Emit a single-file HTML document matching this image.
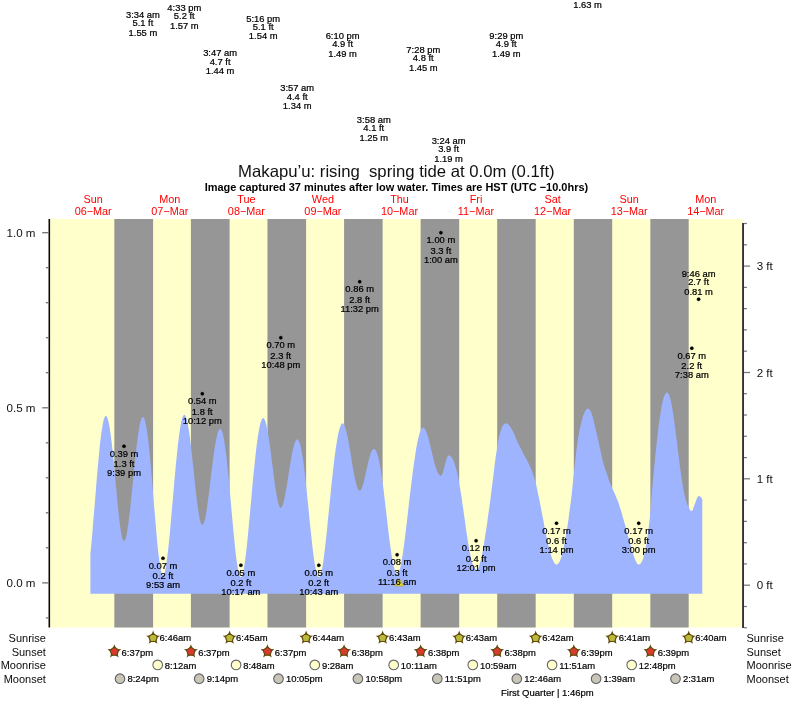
<!DOCTYPE html>
<html lang="en"><head><meta charset="utf-8"><title>Makapu’u tide times</title>
<style>html,body{margin:0;padding:0;background:#fff}body{width:793px;height:701px;overflow:hidden}svg{display:block;filter:blur(0.6px)}</style></head>
<body>
<svg width="793" height="701" viewBox="0 0 793 701" font-family="'Liberation Sans', Arial, Helvetica, sans-serif">
<rect x="0" y="0" width="793" height="701" fill="#ffffff"/>
<rect x="50.0" y="219.0" width="692.7" height="408.5" fill="#ffffcc"/>
<rect x="114.34" y="219.0" width="38.76" height="408.5" fill="#969696"/>
<rect x="190.90" y="219.0" width="38.71" height="408.5" fill="#969696"/>
<rect x="267.46" y="219.0" width="38.65" height="408.5" fill="#969696"/>
<rect x="344.07" y="219.0" width="38.55" height="408.5" fill="#969696"/>
<rect x="420.63" y="219.0" width="38.55" height="408.5" fill="#969696"/>
<rect x="497.19" y="219.0" width="38.49" height="408.5" fill="#969696"/>
<rect x="573.80" y="219.0" width="38.39" height="408.5" fill="#969696"/>
<rect x="650.36" y="219.0" width="38.33" height="408.5" fill="#969696"/>
<path d="M90.4 593.8 L90.4 553.5 L91.3 544.6 L92.2 534.9 L93.0 524.6 L93.9 514.1 L94.8 503.3 L95.7 492.5 L96.5 481.9 L97.4 471.6 L98.3 461.8 L99.2 452.6 L100.0 444.1 L100.9 436.6 L101.8 430.1 L102.7 424.7 L103.5 420.5 L104.4 417.7 L105.3 416.1 L106.2 415.9 L107.0 417.1 L107.9 419.4 L108.8 423.0 L109.7 427.8 L110.5 433.6 L111.4 440.4 L112.3 448.0 L113.2 456.4 L114.0 465.3 L114.9 474.6 L115.8 484.1 L116.7 493.6 L117.5 502.8 L118.4 511.5 L119.3 519.4 L120.2 526.3 L121.0 532.1 L121.9 536.5 L122.8 539.5 L123.7 540.9 L124.5 540.7 L125.4 539.1 L126.3 536.0 L127.2 531.6 L128.0 526.0 L128.9 519.4 L129.8 512.0 L130.7 504.0 L131.5 495.5 L132.4 486.8 L133.3 477.9 L134.2 469.2 L135.0 460.6 L135.9 452.5 L136.8 444.9 L137.7 437.9 L138.5 431.8 L139.4 426.6 L140.3 422.4 L141.2 419.4 L142.0 417.5 L142.9 416.9 L143.8 417.6 L144.7 419.6 L145.5 423.0 L146.4 427.5 L147.3 433.3 L148.2 440.1 L149.1 447.9 L149.9 456.6 L150.8 466.1 L151.7 476.2 L152.6 486.6 L153.4 497.4 L154.3 508.2 L155.2 518.9 L156.1 529.2 L156.9 539.0 L157.8 547.9 L158.7 555.9 L159.6 562.7 L160.4 568.1 L161.3 572.1 L162.2 574.4 L163.1 575.2 L163.9 574.3 L164.8 571.9 L165.7 567.9 L166.6 562.5 L167.4 555.8 L168.3 548.2 L169.2 539.6 L170.1 530.4 L170.9 520.8 L171.8 510.8 L172.7 500.7 L173.6 490.5 L174.4 480.6 L175.3 470.9 L176.2 461.6 L177.1 452.9 L177.9 444.8 L178.8 437.5 L179.7 431.0 L180.6 425.6 L181.4 421.2 L182.3 417.9 L183.2 415.8 L184.1 414.8 L184.9 415.1 L185.8 416.6 L186.7 419.2 L187.6 422.9 L188.4 427.7 L189.3 433.3 L190.2 439.8 L191.1 447.0 L191.9 454.7 L192.8 462.8 L193.7 471.1 L194.6 479.4 L195.4 487.6 L196.3 495.5 L197.2 502.8 L198.1 509.3 L198.9 514.9 L199.8 519.3 L200.7 522.5 L201.6 524.4 L202.5 524.9 L203.3 524.1 L204.2 521.9 L205.1 518.6 L206.0 514.2 L206.8 508.9 L207.7 502.8 L208.6 496.1 L209.5 489.1 L210.3 481.8 L211.2 474.5 L212.1 467.4 L213.0 460.5 L213.8 454.0 L214.7 448.0 L215.6 442.6 L216.5 438.0 L217.3 434.2 L218.2 431.4 L219.1 429.5 L220.0 428.7 L220.8 429.0 L221.7 430.5 L222.6 433.1 L223.5 436.8 L224.3 441.6 L225.2 447.5 L226.1 454.2 L227.0 461.8 L227.8 470.2 L228.7 479.1 L229.6 488.5 L230.5 498.2 L231.3 508.0 L232.2 517.8 L233.1 527.4 L234.0 536.6 L234.8 545.3 L235.7 553.3 L236.6 560.4 L237.5 566.4 L238.3 571.2 L239.2 574.7 L240.1 576.8 L241.0 577.3 L241.8 576.4 L242.7 574.0 L243.6 570.2 L244.5 565.1 L245.3 558.8 L246.2 551.5 L247.1 543.4 L248.0 534.6 L248.8 525.4 L249.7 515.9 L250.6 506.2 L251.5 496.5 L252.3 487.0 L253.2 477.7 L254.1 468.8 L255.0 460.3 L255.8 452.4 L256.7 445.1 L257.6 438.5 L258.5 432.7 L259.4 427.8 L260.2 423.8 L261.1 420.9 L262.0 418.9 L262.9 418.1 L263.7 418.2 L264.6 419.5 L265.5 421.8 L266.4 425.1 L267.2 429.2 L268.1 434.1 L269.0 439.6 L269.9 445.7 L270.7 452.2 L271.6 459.0 L272.5 465.9 L273.4 472.8 L274.2 479.4 L275.1 485.7 L276.0 491.5 L276.9 496.6 L277.7 500.9 L278.6 504.2 L279.5 506.5 L280.4 507.7 L281.2 507.7 L282.1 506.6 L283.0 504.4 L283.9 501.3 L284.7 497.4 L285.6 492.8 L286.5 487.7 L287.4 482.2 L288.2 476.6 L289.1 470.9 L290.0 465.4 L290.9 460.2 L291.7 455.3 L292.6 451.0 L293.5 447.2 L294.4 444.1 L295.2 441.7 L296.1 440.1 L297.0 439.4 L297.9 439.6 L298.7 440.7 L299.6 442.8 L300.5 445.8 L301.4 449.7 L302.2 454.6 L303.1 460.3 L304.0 466.8 L304.9 474.0 L305.7 481.8 L306.6 490.1 L307.5 498.7 L308.4 507.5 L309.2 516.3 L310.1 525.0 L311.0 533.5 L311.9 541.6 L312.7 549.2 L313.6 556.2 L314.5 562.4 L315.4 567.6 L316.3 571.8 L317.1 574.9 L318.0 576.8 L318.9 577.3 L319.8 576.6 L320.6 574.6 L321.5 571.4 L322.4 567.0 L323.3 561.5 L324.1 555.1 L325.0 547.9 L325.9 540.1 L326.8 531.8 L327.6 523.2 L328.5 514.4 L329.4 505.5 L330.3 496.8 L331.1 488.2 L332.0 479.9 L332.9 471.8 L333.8 464.2 L334.6 457.1 L335.5 450.4 L336.4 444.4 L337.3 439.0 L338.1 434.4 L339.0 430.5 L339.9 427.4 L340.8 425.2 L341.6 423.8 L342.5 423.3 L343.4 423.8 L344.3 425.1 L345.1 427.3 L346.0 430.2 L346.9 433.8 L347.8 438.0 L348.6 442.6 L349.5 447.6 L350.4 452.8 L351.3 458.0 L352.1 463.3 L353.0 468.4 L353.9 473.3 L354.8 477.8 L355.6 481.7 L356.5 485.1 L357.4 487.7 L358.3 489.6 L359.1 490.5 L360.0 490.7 L360.9 489.9 L361.8 488.3 L362.6 485.9 L363.5 482.9 L364.4 479.4 L365.3 475.6 L366.1 471.6 L367.0 467.6 L367.9 463.8 L368.8 460.1 L369.7 456.9 L370.5 454.1 L371.4 451.8 L372.3 450.2 L373.2 449.3 L374.0 449.0 L374.9 449.5 L375.8 450.5 L376.7 452.3 L377.5 454.7 L378.4 457.9 L379.3 461.7 L380.2 466.3 L381.0 471.6 L381.9 477.4 L382.8 483.8 L383.7 490.7 L384.5 497.9 L385.4 505.4 L386.3 513.0 L387.2 520.6 L388.0 528.1 L388.9 535.4 L389.8 542.3 L390.7 548.8 L391.5 554.7 L392.4 560.0 L393.3 564.6 L394.2 568.3 L395.0 571.2 L395.9 573.1 L396.8 574.1 L397.7 574.0 L398.5 572.8 L399.4 570.7 L400.3 567.6 L401.2 563.6 L402.0 558.7 L402.9 553.0 L403.8 546.8 L404.7 540.0 L405.5 532.9 L406.4 525.5 L407.3 517.9 L408.2 510.3 L409.0 502.8 L409.9 495.3 L410.8 487.9 L411.7 480.8 L412.5 473.9 L413.4 467.3 L414.3 461.0 L415.2 455.2 L416.0 449.7 L416.9 444.8 L417.8 440.4 L418.7 436.6 L419.5 433.5 L420.4 431.0 L421.3 429.2 L422.2 428.1 L423.0 427.6 L423.9 427.8 L424.8 428.7 L425.7 430.3 L426.6 432.4 L427.4 435.0 L428.3 437.9 L429.2 441.2 L430.1 444.7 L430.9 448.4 L431.8 452.1 L432.7 455.7 L433.6 459.3 L434.4 462.7 L435.3 465.8 L436.2 468.6 L437.1 471.0 L437.9 472.9 L438.8 474.3 L439.7 475.3 L440.6 475.7 L441.4 475.5 L442.3 474.0 L443.2 471.5 L444.1 468.3 L444.9 464.8 L445.8 461.5 L446.7 458.5 L447.6 456.4 L448.4 455.5 L449.3 455.5 L450.2 456.0 L451.1 456.7 L451.9 457.8 L452.8 459.3 L453.7 461.2 L454.6 463.5 L455.4 466.2 L456.3 469.4 L457.2 472.9 L458.1 477.0 L458.9 481.5 L459.8 486.4 L460.7 491.8 L461.6 497.5 L462.4 503.4 L463.3 509.6 L464.2 515.8 L465.1 522.1 L465.9 528.3 L466.8 534.3 L467.7 540.0 L468.6 545.4 L469.4 550.4 L470.3 554.9 L471.2 558.9 L472.1 562.4 L472.9 565.2 L473.8 567.4 L474.7 568.9 L475.6 569.7 L476.4 569.8 L477.3 569.2 L478.2 567.9 L479.1 565.9 L480.0 563.3 L480.8 560.0 L481.7 556.2 L482.6 551.8 L483.5 547.0 L484.3 541.7 L485.2 536.1 L486.1 530.3 L487.0 524.3 L487.8 518.1 L488.7 511.7 L489.6 505.2 L490.5 498.6 L491.3 492.0 L492.2 485.0 L493.1 477.7 L494.0 470.4 L494.8 463.4 L495.7 456.9 L496.6 450.8 L497.5 445.2 L498.3 440.4 L499.2 436.2 L500.1 432.7 L501.0 429.8 L501.8 427.4 L502.7 425.7 L503.6 424.5 L504.5 423.8 L505.3 423.4 L506.2 423.3 L507.1 423.5 L508.0 424.1 L508.8 425.0 L509.7 426.1 L510.6 427.4 L511.5 428.8 L512.3 430.2 L513.2 431.8 L514.1 433.8 L515.0 435.9 L515.8 438.0 L516.7 440.1 L517.6 442.2 L518.5 444.1 L519.3 445.8 L520.2 447.5 L521.1 449.0 L522.0 450.8 L522.8 452.6 L523.7 454.4 L524.6 456.0 L525.5 457.5 L526.3 459.0 L527.2 460.7 L528.1 462.4 L529.0 464.3 L529.8 466.1 L530.7 467.9 L531.6 470.0 L532.5 472.4 L533.3 475.0 L534.2 477.8 L535.1 480.8 L536.0 484.2 L536.9 487.9 L537.7 492.1 L538.6 496.4 L539.5 500.5 L540.4 504.9 L541.2 509.4 L542.1 514.1 L543.0 518.8 L543.9 523.6 L544.7 528.2 L545.6 532.7 L546.5 537.1 L547.4 541.2 L548.2 545.0 L549.1 548.6 L550.0 551.9 L550.9 554.8 L551.7 557.4 L552.6 559.6 L553.5 561.5 L554.4 563.0 L555.2 564.0 L556.1 564.5 L557.0 564.5 L557.9 564.0 L558.7 563.0 L559.6 561.4 L560.5 559.4 L561.4 556.8 L562.2 553.8 L563.1 550.2 L564.0 546.2 L564.9 541.7 L565.7 536.9 L566.6 531.6 L567.5 525.9 L568.4 519.9 L569.2 513.6 L570.1 506.9 L571.0 499.9 L571.9 492.4 L572.7 484.3 L573.6 476.1 L574.5 468.0 L575.4 459.8 L576.2 452.0 L577.1 444.8 L578.0 438.6 L578.9 433.6 L579.7 429.4 L580.6 425.5 L581.5 421.7 L582.4 418.4 L583.2 415.6 L584.1 413.2 L585.0 411.4 L585.9 410.0 L586.7 409.1 L587.6 408.6 L588.5 408.7 L589.4 409.3 L590.2 410.4 L591.1 412.2 L592.0 414.5 L592.9 417.4 L593.8 420.9 L594.6 424.7 L595.5 428.6 L596.4 432.4 L597.3 436.2 L598.1 440.0 L599.0 444.0 L599.9 448.1 L600.8 452.1 L601.6 456.0 L602.5 459.7 L603.4 463.3 L604.3 466.3 L605.1 469.0 L606.0 471.4 L606.9 474.0 L607.8 476.8 L608.6 479.4 L609.5 481.8 L610.4 484.0 L611.3 486.1 L612.1 488.0 L613.0 489.9 L613.9 491.9 L614.8 493.8 L615.6 495.8 L616.5 497.9 L617.4 500.0 L618.3 502.3 L619.1 504.7 L620.0 507.4 L620.9 510.2 L621.8 513.2 L622.6 516.3 L623.5 519.4 L624.4 522.6 L625.3 525.8 L626.1 529.0 L627.0 532.2 L627.9 535.4 L628.8 538.6 L629.6 541.7 L630.5 544.8 L631.4 547.9 L632.3 551.0 L633.1 553.8 L634.0 556.5 L634.9 559.0 L635.8 561.1 L636.6 562.7 L637.5 563.9 L638.4 564.5 L639.3 564.4 L640.1 564.0 L641.0 563.0 L641.9 561.5 L642.8 559.5 L643.6 556.7 L644.5 553.4 L645.4 549.3 L646.3 544.5 L647.2 539.0 L648.0 532.8 L648.9 525.9 L649.8 518.2 L650.7 508.6 L651.5 497.6 L652.4 486.6 L653.3 477.0 L654.2 467.9 L655.0 459.0 L655.9 450.3 L656.8 441.9 L657.7 434.1 L658.5 426.9 L659.4 420.4 L660.3 414.5 L661.2 409.1 L662.0 404.4 L662.9 400.5 L663.8 397.4 L664.7 395.1 L665.5 393.5 L666.4 392.7 L667.3 392.6 L668.2 393.3 L669.0 394.8 L669.9 397.2 L670.8 400.5 L671.7 404.7 L672.5 409.7 L673.4 415.4 L674.3 421.6 L675.2 428.2 L676.0 435.0 L676.9 442.0 L677.8 449.2 L678.7 456.3 L679.5 463.2 L680.4 469.7 L681.3 476.0 L682.2 481.8 L683.0 487.2 L683.9 491.9 L684.8 495.9 L685.7 499.4 L686.5 502.3 L687.4 504.7 L688.3 506.6 L689.2 508.4 L690.0 509.8 L690.9 510.7 L691.8 511.0 L692.7 510.1 L693.5 507.8 L694.4 505.1 L695.3 502.8 L696.2 500.3 L697.0 498.1 L697.9 496.5 L698.8 496.1 L699.7 496.2 L700.5 496.7 L701.4 497.8 L702.3 499.2 L702.3 593.8 Z" fill="#9fb4ff"/>
<g stroke="#0a0a0a" stroke-width="1.6" fill="none">
<line x1="49.3" y1="219.0" x2="49.3" y2="627.5"/>
</g><g stroke="#6c6c6c" stroke-width="1.25">
<line x1="45.8" y1="617.9" x2="48.6" y2="617.9"/>
<line x1="42.2" y1="582.9" x2="48.6" y2="582.9"/>
<line x1="45.8" y1="547.8" x2="48.6" y2="547.8"/>
<line x1="45.8" y1="512.8" x2="48.6" y2="512.8"/>
<line x1="45.8" y1="477.8" x2="48.6" y2="477.8"/>
<line x1="45.8" y1="442.8" x2="48.6" y2="442.8"/>
<line x1="42.2" y1="407.8" x2="48.6" y2="407.8"/>
<line x1="45.8" y1="372.7" x2="48.6" y2="372.7"/>
<line x1="45.8" y1="337.7" x2="48.6" y2="337.7"/>
<line x1="45.8" y1="302.7" x2="48.6" y2="302.7"/>
<line x1="45.8" y1="267.7" x2="48.6" y2="267.7"/>
<line x1="42.2" y1="232.7" x2="48.6" y2="232.7"/>
</g>
<g stroke="#333" stroke-width="1.9" fill="none"><line x1="743.05" y1="222.9" x2="743.05" y2="627.9"/></g>
<g stroke="#777" stroke-width="1.25">
<line x1="743.9" y1="627.7" x2="746.9" y2="627.7"/>
<line x1="743.9" y1="606.5" x2="746.9" y2="606.5"/>
<line x1="743.9" y1="585.2" x2="750.0" y2="585.2"/>
<line x1="743.9" y1="563.9" x2="746.9" y2="563.9"/>
<line x1="743.9" y1="542.7" x2="746.9" y2="542.7"/>
<line x1="743.9" y1="521.4" x2="746.9" y2="521.4"/>
<line x1="743.9" y1="500.1" x2="746.9" y2="500.1"/>
<line x1="743.9" y1="478.8" x2="750.0" y2="478.8"/>
<line x1="743.9" y1="457.6" x2="746.9" y2="457.6"/>
<line x1="743.9" y1="436.3" x2="746.9" y2="436.3"/>
<line x1="743.9" y1="415.0" x2="746.9" y2="415.0"/>
<line x1="743.9" y1="393.7" x2="746.9" y2="393.7"/>
<line x1="743.9" y1="372.5" x2="750.0" y2="372.5"/>
<line x1="743.9" y1="351.2" x2="746.9" y2="351.2"/>
<line x1="743.9" y1="329.9" x2="746.9" y2="329.9"/>
<line x1="743.9" y1="308.6" x2="746.9" y2="308.6"/>
<line x1="743.9" y1="287.4" x2="746.9" y2="287.4"/>
<line x1="743.9" y1="266.1" x2="750.0" y2="266.1"/>
<line x1="743.9" y1="244.8" x2="746.9" y2="244.8"/>
<line x1="743.9" y1="223.5" x2="746.9" y2="223.5"/>
</g>
<g font-size="11.6" fill="#111">
<text x="35.5" y="236.8" text-anchor="end">1.0 m</text>
<text x="35.5" y="411.9" text-anchor="end">0.5 m</text>
<text x="35.5" y="587.0" text-anchor="end">0.0 m</text>
<text x="756.7" y="589.3">0 ft</text>
<text x="756.7" y="482.9">1 ft</text>
<text x="756.7" y="376.6">2 ft</text>
<text x="756.7" y="270.2">3 ft</text>
</g>
<text x="396.4" y="176.6" font-size="16.72" text-anchor="middle" fill="#111" xml:space="preserve">Makapu’u: rising  spring tide at 0.0m (0.1ft)</text>
<text x="396.4" y="190.7" font-size="10.97" font-weight="bold" text-anchor="middle" fill="#000">Image captured 37 minutes after low water. Times are HST (UTC −10.0hrs)</text>
<g font-size="10.85" fill="#ff0000" text-anchor="middle">
<text x="93.2" y="203.3">Sun</text><text x="93.2" y="214.9">06−Mar</text>
<text x="169.8" y="203.3">Mon</text><text x="169.8" y="214.9">07−Mar</text>
<text x="246.4" y="203.3">Tue</text><text x="246.4" y="214.9">08−Mar</text>
<text x="322.9" y="203.3">Wed</text><text x="322.9" y="214.9">09−Mar</text>
<text x="399.5" y="203.3">Thu</text><text x="399.5" y="214.9">10−Mar</text>
<text x="476.0" y="203.3">Fri</text><text x="476.0" y="214.9">11−Mar</text>
<text x="552.6" y="203.3">Sat</text><text x="552.6" y="214.9">12−Mar</text>
<text x="629.2" y="203.3">Sun</text><text x="629.2" y="214.9">13−Mar</text>
<text x="705.7" y="203.3">Mon</text><text x="705.7" y="214.9">14−Mar</text>
</g>
<path d="M399.2 578.6 L403.7 586 L394.7 586 Z" fill="#e8dc30" stroke="#a89c20" stroke-width="0.6"/>
<g font-size="9.4" fill="#000" stroke="#000" stroke-width="0.22" text-anchor="middle">
<text x="142.9" y="17.5">3:34 am</text>
<text x="142.9" y="26.1">5.1 ft</text>
<text x="142.9" y="35.8">1.55 m</text>
<text x="184.3" y="11.2">4:33 pm</text>
<text x="184.3" y="19.1">5.2 ft</text>
<text x="184.3" y="28.8">1.57 m</text>
<text x="220.1" y="56.1">3:47 am</text>
<text x="220.1" y="64.7">4.7 ft</text>
<text x="220.1" y="74.3">1.44 m</text>
<text x="263.2" y="21.7">5:16 pm</text>
<text x="263.2" y="29.6">5.1 ft</text>
<text x="263.2" y="39.3">1.54 m</text>
<text x="297.2" y="91.1">3:57 am</text>
<text x="297.2" y="99.7">4.4 ft</text>
<text x="297.2" y="109.3">1.34 m</text>
<text x="342.6" y="39.3">6:10 pm</text>
<text x="342.6" y="47.2">4.9 ft</text>
<text x="342.6" y="56.8">1.49 m</text>
<text x="373.8" y="122.6">3:58 am</text>
<text x="373.8" y="131.2">4.1 ft</text>
<text x="373.8" y="140.9">1.25 m</text>
<text x="423.3" y="53.3">7:28 pm</text>
<text x="423.3" y="61.2">4.8 ft</text>
<text x="423.3" y="70.8">1.45 m</text>
<text x="448.6" y="143.6">3:24 am</text>
<text x="448.6" y="152.2">3.9 ft</text>
<text x="448.6" y="161.9">1.19 m</text>
<text x="506.3" y="39.3">9:29 pm</text>
<text x="506.3" y="47.2">4.9 ft</text>
<text x="506.3" y="56.8">1.49 m</text>
<text x="587.6" y="8.0">1.63 m</text>
<circle cx="698.6" cy="299.2" r="1.7" fill="#000"/>
<text x="698.6" y="276.7">9:46 am</text>
<text x="698.6" y="285.3">2.7 ft</text>
<text x="698.6" y="294.9">0.81 m</text>
<circle cx="124.0" cy="446.3" r="1.7" fill="#000"/>
<text x="124.0" y="456.9">0.39 m</text>
<text x="124.0" y="467.2">1.3 ft</text>
<text x="124.0" y="476.1">9:39 pm</text>
<circle cx="163.0" cy="558.3" r="1.7" fill="#000"/>
<text x="163.0" y="568.9">0.07 m</text>
<text x="163.0" y="579.2">0.2 ft</text>
<text x="163.0" y="588.1">9:53 am</text>
<circle cx="202.3" cy="393.7" r="1.7" fill="#000"/>
<text x="202.3" y="404.3">0.54 m</text>
<text x="202.3" y="414.6">1.8 ft</text>
<text x="202.3" y="423.5">10:12 pm</text>
<circle cx="240.9" cy="565.3" r="1.7" fill="#000"/>
<text x="240.9" y="575.9">0.05 m</text>
<text x="240.9" y="586.2">0.2 ft</text>
<text x="240.9" y="595.1">10:17 am</text>
<circle cx="280.8" cy="337.7" r="1.7" fill="#000"/>
<text x="280.8" y="348.3">0.70 m</text>
<text x="280.8" y="358.6">2.3 ft</text>
<text x="280.8" y="367.5">10:48 pm</text>
<circle cx="318.8" cy="565.3" r="1.7" fill="#000"/>
<text x="318.8" y="575.9">0.05 m</text>
<text x="318.8" y="586.2">0.2 ft</text>
<text x="318.8" y="595.1">10:43 am</text>
<circle cx="359.7" cy="281.7" r="1.7" fill="#000"/>
<text x="359.7" y="292.3">0.86 m</text>
<text x="359.7" y="302.6">2.8 ft</text>
<text x="359.7" y="311.5">11:32 pm</text>
<circle cx="397.1" cy="554.8" r="1.7" fill="#000"/>
<text x="397.1" y="565.4">0.08 m</text>
<text x="397.1" y="575.7">0.3 ft</text>
<text x="397.1" y="584.6">11:16 am</text>
<circle cx="440.9" cy="232.7" r="1.7" fill="#000"/>
<text x="440.9" y="243.3">1.00 m</text>
<text x="440.9" y="253.6">3.3 ft</text>
<text x="440.9" y="262.5">1:00 am</text>
<circle cx="476.1" cy="540.8" r="1.7" fill="#000"/>
<text x="476.1" y="551.4">0.12 m</text>
<text x="476.1" y="561.7">0.4 ft</text>
<text x="476.1" y="570.6">12:01 pm</text>
<circle cx="556.5" cy="523.3" r="1.7" fill="#000"/>
<text x="556.5" y="533.9">0.17 m</text>
<text x="556.5" y="544.2">0.6 ft</text>
<text x="556.5" y="553.1">1:14 pm</text>
<circle cx="638.7" cy="523.3" r="1.7" fill="#000"/>
<text x="638.7" y="533.9">0.17 m</text>
<text x="638.7" y="544.2">0.6 ft</text>
<text x="638.7" y="553.1">3:00 pm</text>
<circle cx="691.8" cy="348.2" r="1.7" fill="#000"/>
<text x="691.8" y="358.8">0.67 m</text>
<text x="691.8" y="369.1">2.2 ft</text>
<text x="691.8" y="378.0">7:38 am</text>
</g>
<g font-size="11.0" fill="#0a0a0a">
<text x="45.9" y="641.8" text-anchor="end">Sunrise</text><text x="746.5" y="641.8">Sunrise</text>
<text x="45.9" y="656.0" text-anchor="end">Sunset</text><text x="746.5" y="656.0">Sunset</text>
<text x="45.9" y="669.0" text-anchor="end">Moonrise</text><text x="746.5" y="669.0">Moonrise</text>
<text x="45.9" y="682.8" text-anchor="end">Moonset</text><text x="746.5" y="682.8">Moonset</text>
</g>
<g font-size="9.45" fill="#000" stroke="#000" stroke-width="0.2">
<path d="M153.10 630.60 L154.86 635.47 L160.04 635.64 L155.95 638.83 L157.39 643.81 L153.10 640.90 L148.80 643.81 L150.24 638.83 L146.15 635.64 L151.33 635.47Z" fill="#634a08" stroke="none"/><path d="M153.10 633.40 L157.38 636.51 L155.74 641.54 L150.45 641.54 L148.82 636.51Z" fill="#b9b93c" stroke="#634a08" stroke-width="1.15" stroke-linejoin="round"/>
<text x="159.6" y="640.5">6:46am</text>
<path d="M229.60 630.60 L231.37 635.47 L236.55 635.64 L232.46 638.83 L233.89 643.81 L229.60 640.90 L225.31 643.81 L226.75 638.83 L222.66 635.64 L227.84 635.47Z" fill="#634a08" stroke="none"/><path d="M229.60 633.40 L233.88 636.51 L232.25 641.54 L226.96 641.54 L225.32 636.51Z" fill="#b9b93c" stroke="#634a08" stroke-width="1.15" stroke-linejoin="round"/>
<text x="236.1" y="640.5">6:45am</text>
<path d="M306.11 630.60 L307.87 635.47 L313.05 635.64 L308.96 638.83 L310.40 643.81 L306.11 640.90 L301.82 643.81 L303.26 638.83 L299.17 635.64 L304.35 635.47Z" fill="#634a08" stroke="none"/><path d="M306.11 633.40 L310.39 636.51 L308.75 641.54 L303.46 641.54 L301.83 636.51Z" fill="#b9b93c" stroke="#634a08" stroke-width="1.15" stroke-linejoin="round"/>
<text x="312.6" y="640.5">6:44am</text>
<path d="M382.62 630.60 L384.38 635.47 L389.56 635.64 L385.47 638.83 L386.91 643.81 L382.62 640.90 L378.33 643.81 L379.76 638.83 L375.67 635.64 L380.85 635.47Z" fill="#634a08" stroke="none"/><path d="M382.62 633.40 L386.90 636.51 L385.26 641.54 L379.97 641.54 L378.34 636.51Z" fill="#b9b93c" stroke="#634a08" stroke-width="1.15" stroke-linejoin="round"/>
<text x="389.1" y="640.5">6:43am</text>
<path d="M459.18 630.60 L460.94 635.47 L466.12 635.64 L462.03 638.83 L463.47 643.81 L459.18 640.90 L454.89 643.81 L456.32 638.83 L452.23 635.64 L457.41 635.47Z" fill="#634a08" stroke="none"/><path d="M459.18 633.40 L463.46 636.51 L461.82 641.54 L456.53 641.54 L454.90 636.51Z" fill="#b9b93c" stroke="#634a08" stroke-width="1.15" stroke-linejoin="round"/>
<text x="465.7" y="640.5">6:43am</text>
<path d="M535.68 630.60 L537.45 635.47 L542.63 635.64 L538.54 638.83 L539.97 643.81 L535.68 640.90 L531.39 643.81 L532.83 638.83 L528.74 635.64 L533.92 635.47Z" fill="#634a08" stroke="none"/><path d="M535.68 633.40 L539.96 636.51 L538.33 641.54 L533.04 641.54 L531.40 636.51Z" fill="#b9b93c" stroke="#634a08" stroke-width="1.15" stroke-linejoin="round"/>
<text x="542.2" y="640.5">6:42am</text>
<path d="M612.19 630.60 L613.95 635.47 L619.13 635.64 L615.04 638.83 L616.48 643.81 L612.19 640.90 L607.90 643.81 L609.34 638.83 L605.25 635.64 L610.43 635.47Z" fill="#634a08" stroke="none"/><path d="M612.19 633.40 L616.47 636.51 L614.83 641.54 L609.54 641.54 L607.91 636.51Z" fill="#b9b93c" stroke="#634a08" stroke-width="1.15" stroke-linejoin="round"/>
<text x="618.7" y="640.5">6:41am</text>
<path d="M688.70 630.60 L690.46 635.47 L695.64 635.64 L691.55 638.83 L692.99 643.81 L688.70 640.90 L684.41 643.81 L685.84 638.83 L681.75 635.64 L686.93 635.47Z" fill="#634a08" stroke="none"/><path d="M688.70 633.40 L692.98 636.51 L691.34 641.54 L686.05 641.54 L684.42 636.51Z" fill="#b9b93c" stroke="#634a08" stroke-width="1.15" stroke-linejoin="round"/>
<text x="695.2" y="640.5">6:40am</text>
<path d="M114.34 644.20 L116.10 649.07 L121.28 649.24 L117.19 652.43 L118.63 657.41 L114.34 654.50 L110.05 657.41 L111.48 652.43 L107.39 649.24 L112.57 649.07Z" fill="#5e4a08" stroke="none"/><path d="M114.34 647.00 L118.62 650.11 L116.98 655.14 L111.69 655.14 L110.06 650.11Z" fill="#d93a30" stroke="#5e4a08" stroke-width="1.15" stroke-linejoin="round"/>
<text x="121.6" y="655.8">6:37pm</text>
<path d="M190.90 644.20 L192.66 649.07 L197.84 649.24 L193.75 652.43 L195.19 657.41 L190.90 654.50 L186.61 657.41 L188.04 652.43 L183.95 649.24 L189.13 649.07Z" fill="#5e4a08" stroke="none"/><path d="M190.90 647.00 L195.18 650.11 L193.54 655.14 L188.25 655.14 L186.62 650.11Z" fill="#d93a30" stroke="#5e4a08" stroke-width="1.15" stroke-linejoin="round"/>
<text x="198.2" y="655.8">6:37pm</text>
<path d="M267.46 644.20 L269.22 649.07 L274.40 649.24 L270.31 652.43 L271.75 657.41 L267.46 654.50 L263.17 657.41 L264.60 652.43 L260.51 649.24 L265.69 649.07Z" fill="#5e4a08" stroke="none"/><path d="M267.46 647.00 L271.74 650.11 L270.10 655.14 L264.81 655.14 L263.18 650.11Z" fill="#d93a30" stroke="#5e4a08" stroke-width="1.15" stroke-linejoin="round"/>
<text x="274.8" y="655.8">6:37pm</text>
<path d="M344.07 644.20 L345.83 649.07 L351.01 649.24 L346.92 652.43 L348.36 657.41 L344.07 654.50 L339.78 657.41 L341.22 652.43 L337.13 649.24 L342.31 649.07Z" fill="#5e4a08" stroke="none"/><path d="M344.07 647.00 L348.35 650.11 L346.72 655.14 L341.43 655.14 L339.79 650.11Z" fill="#d93a30" stroke="#5e4a08" stroke-width="1.15" stroke-linejoin="round"/>
<text x="351.4" y="655.8">6:38pm</text>
<path d="M420.63 644.20 L422.39 649.07 L427.57 649.24 L423.48 652.43 L424.92 657.41 L420.63 654.50 L416.34 657.41 L417.78 652.43 L413.69 649.24 L418.87 649.07Z" fill="#5e4a08" stroke="none"/><path d="M420.63 647.00 L424.91 650.11 L423.28 655.14 L417.99 655.14 L416.35 650.11Z" fill="#d93a30" stroke="#5e4a08" stroke-width="1.15" stroke-linejoin="round"/>
<text x="427.9" y="655.8">6:38pm</text>
<path d="M497.19 644.20 L498.95 649.07 L504.13 649.24 L500.04 652.43 L501.48 657.41 L497.19 654.50 L492.90 657.41 L494.34 652.43 L490.25 649.24 L495.43 649.07Z" fill="#5e4a08" stroke="none"/><path d="M497.19 647.00 L501.47 650.11 L499.84 655.14 L494.55 655.14 L492.91 650.11Z" fill="#d93a30" stroke="#5e4a08" stroke-width="1.15" stroke-linejoin="round"/>
<text x="504.5" y="655.8">6:38pm</text>
<path d="M573.80 644.20 L575.57 649.07 L580.75 649.24 L576.66 652.43 L578.09 657.41 L573.80 654.50 L569.51 657.41 L570.95 652.43 L566.86 649.24 L572.04 649.07Z" fill="#5e4a08" stroke="none"/><path d="M573.80 647.00 L578.08 650.11 L576.45 655.14 L571.16 655.14 L569.52 650.11Z" fill="#d93a30" stroke="#5e4a08" stroke-width="1.15" stroke-linejoin="round"/>
<text x="581.1" y="655.8">6:39pm</text>
<path d="M650.36 644.20 L652.13 649.07 L657.31 649.24 L653.22 652.43 L654.65 657.41 L650.36 654.50 L646.07 657.41 L647.51 652.43 L643.42 649.24 L648.60 649.07Z" fill="#5e4a08" stroke="none"/><path d="M650.36 647.00 L654.64 650.11 L653.01 655.14 L647.72 655.14 L646.08 650.11Z" fill="#d93a30" stroke="#5e4a08" stroke-width="1.15" stroke-linejoin="round"/>
<text x="657.7" y="655.8">6:39pm</text>
<circle cx="157.7" cy="664.9" r="4.8" fill="#ffffcc" stroke="#666" stroke-width="1.1"/>
<text x="164.8" y="668.7">8:12am</text>
<circle cx="236.1" cy="664.9" r="4.8" fill="#ffffcc" stroke="#666" stroke-width="1.1"/>
<text x="243.2" y="668.7">8:48am</text>
<circle cx="314.8" cy="664.9" r="4.8" fill="#ffffcc" stroke="#666" stroke-width="1.1"/>
<text x="321.9" y="668.7">9:28am</text>
<circle cx="393.7" cy="664.9" r="4.8" fill="#ffffcc" stroke="#666" stroke-width="1.1"/>
<text x="400.8" y="668.7">10:11am</text>
<circle cx="472.8" cy="664.9" r="4.8" fill="#ffffcc" stroke="#666" stroke-width="1.1"/>
<text x="479.9" y="668.7">10:59am</text>
<circle cx="552.1" cy="664.9" r="4.8" fill="#ffffcc" stroke="#666" stroke-width="1.1"/>
<text x="559.2" y="668.7">11:51am</text>
<circle cx="631.7" cy="664.9" r="4.8" fill="#ffffcc" stroke="#666" stroke-width="1.1"/>
<text x="638.8" y="668.7">12:48pm</text>
<circle cx="120.0" cy="678.7" r="4.8" fill="#c9c6b8" stroke="#5f5f5f" stroke-width="1.1"/>
<text x="127.5" y="682.4">8:24pm</text>
<circle cx="199.2" cy="678.7" r="4.8" fill="#c9c6b8" stroke="#5f5f5f" stroke-width="1.1"/>
<text x="206.7" y="682.4">9:14pm</text>
<circle cx="278.5" cy="678.7" r="4.8" fill="#c9c6b8" stroke="#5f5f5f" stroke-width="1.1"/>
<text x="286.0" y="682.4">10:05pm</text>
<circle cx="357.9" cy="678.7" r="4.8" fill="#c9c6b8" stroke="#5f5f5f" stroke-width="1.1"/>
<text x="365.4" y="682.4">10:58pm</text>
<circle cx="437.3" cy="678.7" r="4.8" fill="#c9c6b8" stroke="#5f5f5f" stroke-width="1.1"/>
<text x="444.8" y="682.4">11:51pm</text>
<circle cx="516.8" cy="678.7" r="4.8" fill="#c9c6b8" stroke="#5f5f5f" stroke-width="1.1"/>
<text x="524.3" y="682.4">12:46am</text>
<circle cx="596.1" cy="678.7" r="4.8" fill="#c9c6b8" stroke="#5f5f5f" stroke-width="1.1"/>
<text x="603.6" y="682.4">1:39am</text>
<circle cx="675.5" cy="678.7" r="4.8" fill="#c9c6b8" stroke="#5f5f5f" stroke-width="1.1"/>
<text x="683.0" y="682.4">2:31am</text>
<text x="547.4" y="695.6" font-size="9.5" text-anchor="middle">First Quarter | 1:46pm</text>
</g>
</svg>
</body></html>
